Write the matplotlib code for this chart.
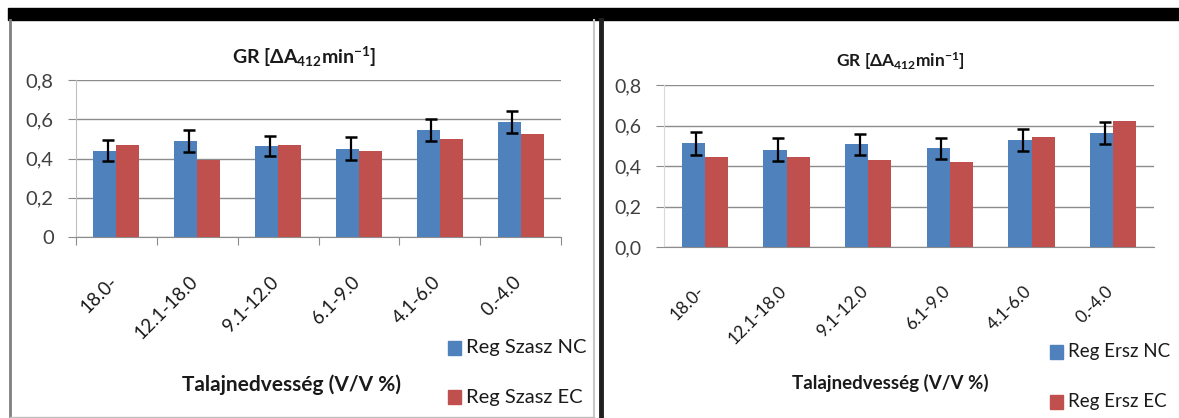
import matplotlib
matplotlib.use("Agg")
import matplotlib.pyplot as plt
import matplotlib.transforms as mtransforms
from matplotlib.patches import Rectangle
from matplotlib.lines import Line2D
import numpy as np

plt.rcParams['font.family'] = ['Lato', 'DejaVu Sans']
plt.rcParams['mathtext.fontset'] = 'custom'
plt.rcParams['mathtext.rm'] = 'Lato'
plt.rcParams['mathtext.bf'] = 'Lato:bold'
plt.rcParams['mathtext.it'] = 'Lato:italic'

categories = ["18.0-", "12.1-18.0", "9.1-12.0", "6.1-9.0", "4.1-6.0", "0.-4.0"]

szasz_nc = [0.44, 0.49, 0.465, 0.45, 0.545, 0.585]
szasz_nc_err = [0.055, 0.055, 0.05, 0.06, 0.055, 0.055]
szasz_ec = [0.47, 0.39, 0.47, 0.44, 0.50, 0.525]

ersz_nc = [0.512, 0.48, 0.507, 0.487, 0.528, 0.563]
ersz_nc_err = [0.057, 0.057, 0.053, 0.053, 0.053, 0.056]
ersz_ec = [0.444, 0.444, 0.43, 0.418, 0.545, 0.622]

left_yticks = [0, 0.2, 0.4, 0.6, 0.8]
left_yticklabels = ["0", "0,2", "0,4", "0,6", "0,8"]
right_yticks = [0, 0.2, 0.4, 0.6, 0.8]
right_yticklabels = ["0,0", "0,2", "0,4", "0,6", "0,8"]

title_text = r"GR [ΔA$_{\mathbf{412}}$min$^{\mathbf{-1}}$]"
xlabel_text = "Talajnedvesség (V/V %)"

BLUE = "#4F81BD"
RED = "#C0504D"
GRID = "#8C8C8C"
TXT = "#404040"

W, H = 1179, 418
fig = plt.figure(figsize=(W / 100, H / 100), dpi=100)
fig.patch.set_facecolor("white")


def px(x0, y0, x1, y1):
    # figure fraction rectangle from pixel box (top-left origin)
    return [x0 / W, 1 - y1 / H, (x1 - x0) / W, (y1 - y0) / H]


def draw_panel(ax, nc, nc_err, ec, yticks, yticklabels, xtick_len, xlabel_pad,
               ytick_fs, xtick_fs, lab_dx):
    n = len(categories)
    x = np.arange(n)
    bw = 0.285
    ax.bar(x - bw / 2, nc, width=bw, color=BLUE, zorder=3)
    ax.bar(x + bw / 2, ec, width=bw, color=RED, zorder=3)
    ax.errorbar(x - bw / 2 + 0.04, nc, yerr=nc_err, fmt="none", ecolor="black",
                elinewidth=1.6, capsize=4, capthick=1.8, zorder=4)
    ax.set_xlim(-0.5, n - 0.5)
    ax.set_ylim(0, 0.8)
    ax.set_yticks(yticks)
    ax.set_yticklabels(yticklabels, fontsize=ytick_fs, color=TXT)
    ax.yaxis.grid(True, color=GRID, linewidth=1.0, zorder=0)
    ax.set_axisbelow(True)
    ax.tick_params(axis="y", length=6, color=GRID, pad=10)
    for s in ["top", "right"]:
        ax.spines[s].set_visible(False)
    ax.spines["left"].set_color("#BFBFBF")
    ax.spines["bottom"].set_color(GRID)
    # x ticks at category boundaries, labels at centers
    ax.set_xticks(np.arange(-0.5, n, 1.0), minor=False)
    ax.set_xticklabels([])
    ax.tick_params(axis="x", which="major", length=xtick_len, color=GRID, direction="out")
    ax.set_xticks(x, minor=True)
    ax.set_xticklabels(categories, minor=True, rotation=45, ha="right", va="top",
                       fontsize=xtick_fs, color="#1a1a1a")
    ax.tick_params(axis="x", which="minor", length=0, pad=xlabel_pad)
    off = mtransforms.ScaledTranslation(lab_dx / 100, 0, fig.dpi_scale_trans)
    for lab in ax.get_xticklabels(minor=True):
        lab.set_transform(lab.get_transform() + off)
    return ax


axL = fig.add_axes(px(76, 80, 561, 237))
draw_panel(axL, szasz_nc, szasz_nc_err, szasz_ec, left_yticks, left_yticklabels,
           xtick_len=6, xlabel_pad=26, ytick_fs=14.5, xtick_fs=13.5, lab_dx=4)

axR = fig.add_axes(px(664, 85, 1154, 247))
draw_panel(axR, ersz_nc, ersz_nc_err, ersz_ec, right_yticks, right_yticklabels,
           xtick_len=0, xlabel_pad=26, ytick_fs=14, xtick_fs=12.5, lab_dx=3)
axR.spines["left"].set_color("#D9D9D9")

# titles and axis labels
fig.text(304 / W, 1 - 57 / H, title_text, ha="center", va="center",
         fontsize=14, fontweight="bold", color="#1a1a1a")
fig.text(900 / W, 1 - 61 / H, title_text, ha="center", va="center",
         fontsize=12.5, fontweight="bold", color="#1a1a1a")
fig.text(292 / W, 1 - 385 / H, xlabel_text, ha="center", va="center",
         fontsize=15, fontweight="bold", color="#1a1a1a")
fig.text(890 / W, 1 - 383 / H, xlabel_text, ha="center", va="center",
         fontsize=13.5, fontweight="bold", color="#1a1a1a")

# legends
def legend(x_sq, y_nc, y_ec, names, fs):
    for y, c, name in [(y_nc, BLUE, names[0]), (y_ec, RED, names[1])]:
        fig.add_artist(Rectangle((x_sq / W, 1 - (y + 7) / H), 13 / W, 14 / H,
                                 transform=fig.transFigure, color=c))
        fig.text((x_sq + 18) / W, 1 - y / H, name, ha="left", va="center",
                 fontsize=fs, color="#1a1a1a")

legend(448, 348, 397, ["Reg Szasz NC", "Reg Szasz EC"], 14.5)
legend(1050, 352, 402, ["Reg Ersz NC", "Reg Ersz EC"], 13.5)

# frame decorations
fig.add_artist(Rectangle((8 / W, 1 - 20 / H), (W - 8) / W, 12 / H,
                         transform=fig.transFigure, color="black"))
fig.add_artist(Line2D([10 / W, 10 / W], [0, 1 - 20 / H], transform=fig.transFigure,
                      color="#7F7F7F", linewidth=2))
fig.add_artist(Line2D([594 / W, 594 / W], [0, 1 - 20 / H], transform=fig.transFigure,
                      color="#C8C8C8", linewidth=1.5))
fig.add_artist(Line2D([600.5 / W, 600.5 / W], [0, 1 - 20 / H], transform=fig.transFigure,
                      color="#202020", linewidth=3.5))
fig.add_artist(Line2D([10 / W, 594 / W], [1 / H, 1 / H], transform=fig.transFigure,
                      color="#BFBFBF", linewidth=1))

fig.savefig("out.png", dpi=100, facecolor="white")
